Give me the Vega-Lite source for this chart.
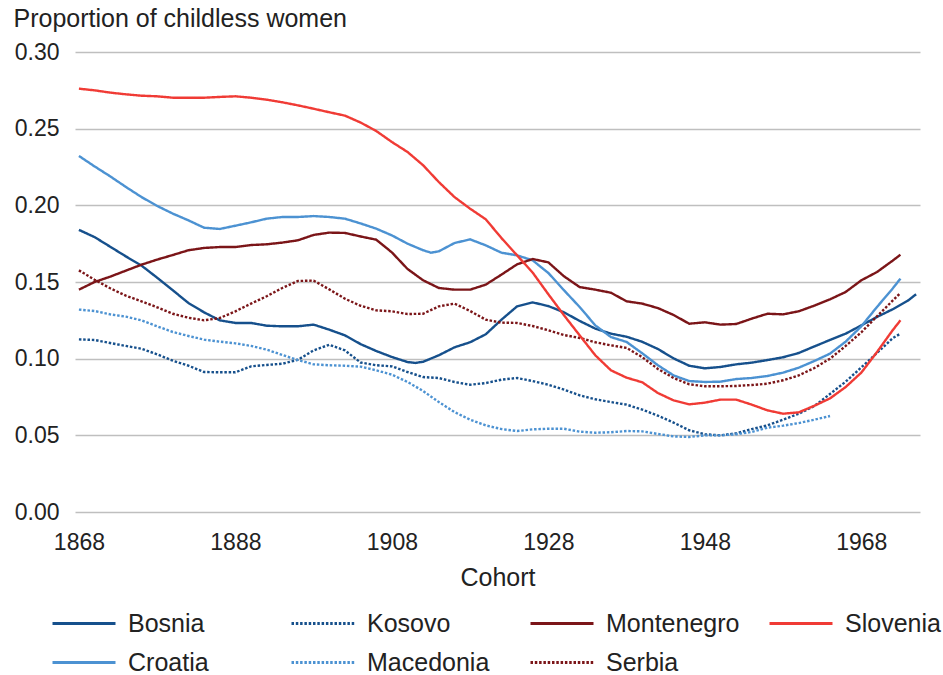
{
 "$schema": "https://vega.github.io/schema/vega-lite/v6.json",
 "width": 845,
 "height": 460,
 "autosize": {"type": "none"},
 "padding": {"left": 75, "top": 52, "right": 23, "bottom": 163},
 "background": "white",
 "config": {
  "view": {"stroke": null},
  "font": "Liberation Sans",
  "legend": {
   "orient": "none",
   "legendX": -24,
   "legendY": 559.5,
   "columns": 4,
   "symbolType": "stroke",
   "symbolSize": 3969,
   "symbolStrokeWidth": 3,
   "labelFontSize": 25,
   "labelColor": "#222222",
   "labelOffset": 11,
   "columnPadding": 28,
   "rowPadding": 14,
   "clipHeight": 24,
   "gridAlign": "all",
   "padding": 0
  }
 },
 "data": {"values": [
  {"country":"Bosnia","cohort":1868,"value":0.184},{"country":"Bosnia","cohort":1870,"value":0.1793},{"country":"Bosnia","cohort":1872,"value":0.173},{"country":"Bosnia","cohort":1874,"value":0.1667},{"country":"Bosnia","cohort":1876,"value":0.1607},{"country":"Bosnia","cohort":1878,"value":0.1528},{"country":"Bosnia","cohort":1880,"value":0.1446},{"country":"Bosnia","cohort":1882,"value":0.1363},{"country":"Bosnia","cohort":1884,"value":0.1302},{"country":"Bosnia","cohort":1886,"value":0.125},{"country":"Bosnia","cohort":1888,"value":0.1233},{"country":"Bosnia","cohort":1890,"value":0.1233},{"country":"Bosnia","cohort":1892,"value":0.1215},{"country":"Bosnia","cohort":1894,"value":0.1211},{"country":"Bosnia","cohort":1896,"value":0.1211},{"country":"Bosnia","cohort":1898,"value":0.1222},{"country":"Bosnia","cohort":1900,"value":0.1189},{"country":"Bosnia","cohort":1902,"value":0.1152},{"country":"Bosnia","cohort":1904,"value":0.1095},{"country":"Bosnia","cohort":1906,"value":0.105},{"country":"Bosnia","cohort":1908,"value":0.1011},{"country":"Bosnia","cohort":1910,"value":0.0978},{"country":"Bosnia","cohort":1911,"value":0.0972},{"country":"Bosnia","cohort":1912,"value":0.098},{"country":"Bosnia","cohort":1914,"value":0.1022},{"country":"Bosnia","cohort":1916,"value":0.1074},{"country":"Bosnia","cohort":1918,"value":0.1107},{"country":"Bosnia","cohort":1920,"value":0.1159},{"country":"Bosnia","cohort":1922,"value":0.1254},{"country":"Bosnia","cohort":1924,"value":0.1341},{"country":"Bosnia","cohort":1926,"value":0.1367},{"country":"Bosnia","cohort":1928,"value":0.1343},{"country":"Bosnia","cohort":1930,"value":0.1302},{"country":"Bosnia","cohort":1932,"value":0.1246},{"country":"Bosnia","cohort":1934,"value":0.1196},{"country":"Bosnia","cohort":1936,"value":0.1163},{"country":"Bosnia","cohort":1938,"value":0.1143},{"country":"Bosnia","cohort":1940,"value":0.111},{"country":"Bosnia","cohort":1942,"value":0.1063},{"country":"Bosnia","cohort":1944,"value":0.1002},{"country":"Bosnia","cohort":1946,"value":0.0954},{"country":"Bosnia","cohort":1948,"value":0.0937},{"country":"Bosnia","cohort":1950,"value":0.0946},{"country":"Bosnia","cohort":1952,"value":0.0963},{"country":"Bosnia","cohort":1954,"value":0.0974},{"country":"Bosnia","cohort":1956,"value":0.0991},{"country":"Bosnia","cohort":1958,"value":0.1009},{"country":"Bosnia","cohort":1960,"value":0.1037},{"country":"Bosnia","cohort":1962,"value":0.108},{"country":"Bosnia","cohort":1964,"value":0.1122},{"country":"Bosnia","cohort":1966,"value":0.1163},{"country":"Bosnia","cohort":1968,"value":0.1217},{"country":"Bosnia","cohort":1970,"value":0.1272},{"country":"Bosnia","cohort":1972,"value":0.1322},{"country":"Bosnia","cohort":1974,"value":0.138},{"country":"Bosnia","cohort":1975,"value":0.142},
  {"country":"Croatia","cohort":1868,"value":0.2322},{"country":"Croatia","cohort":1870,"value":0.2254},{"country":"Croatia","cohort":1872,"value":0.2189},{"country":"Croatia","cohort":1874,"value":0.212},{"country":"Croatia","cohort":1876,"value":0.2054},{"country":"Croatia","cohort":1878,"value":0.1996},{"country":"Croatia","cohort":1880,"value":0.1946},{"country":"Croatia","cohort":1882,"value":0.1902},{"country":"Croatia","cohort":1884,"value":0.1854},{"country":"Croatia","cohort":1886,"value":0.1846},{"country":"Croatia","cohort":1888,"value":0.1867},{"country":"Croatia","cohort":1890,"value":0.1889},{"country":"Croatia","cohort":1892,"value":0.1913},{"country":"Croatia","cohort":1894,"value":0.1924},{"country":"Croatia","cohort":1896,"value":0.1924},{"country":"Croatia","cohort":1898,"value":0.193},{"country":"Croatia","cohort":1900,"value":0.1924},{"country":"Croatia","cohort":1902,"value":0.1913},{"country":"Croatia","cohort":1904,"value":0.1882},{"country":"Croatia","cohort":1906,"value":0.1848},{"country":"Croatia","cohort":1908,"value":0.1804},{"country":"Croatia","cohort":1910,"value":0.175},{"country":"Croatia","cohort":1912,"value":0.1707},{"country":"Croatia","cohort":1913,"value":0.1691},{"country":"Croatia","cohort":1914,"value":0.17},{"country":"Croatia","cohort":1916,"value":0.1754},{"country":"Croatia","cohort":1918,"value":0.1778},{"country":"Croatia","cohort":1920,"value":0.1739},{"country":"Croatia","cohort":1922,"value":0.1691},{"country":"Croatia","cohort":1924,"value":0.1674},{"country":"Croatia","cohort":1926,"value":0.1641},{"country":"Croatia","cohort":1928,"value":0.1559},{"country":"Croatia","cohort":1930,"value":0.1446},{"country":"Croatia","cohort":1932,"value":0.1337},{"country":"Croatia","cohort":1934,"value":0.1217},{"country":"Croatia","cohort":1936,"value":0.1141},{"country":"Croatia","cohort":1938,"value":0.1109},{"country":"Croatia","cohort":1940,"value":0.1035},{"country":"Croatia","cohort":1942,"value":0.0957},{"country":"Croatia","cohort":1944,"value":0.0891},{"country":"Croatia","cohort":1946,"value":0.0854},{"country":"Croatia","cohort":1948,"value":0.0848},{"country":"Croatia","cohort":1950,"value":0.085},{"country":"Croatia","cohort":1952,"value":0.0867},{"country":"Croatia","cohort":1954,"value":0.0874},{"country":"Croatia","cohort":1956,"value":0.0887},{"country":"Croatia","cohort":1958,"value":0.0909},{"country":"Croatia","cohort":1960,"value":0.0941},{"country":"Croatia","cohort":1962,"value":0.0985},{"country":"Croatia","cohort":1964,"value":0.1033},{"country":"Croatia","cohort":1966,"value":0.1111},{"country":"Croatia","cohort":1968,"value":0.1211},{"country":"Croatia","cohort":1970,"value":0.1337},{"country":"Croatia","cohort":1972,"value":0.1457},{"country":"Croatia","cohort":1973,"value":0.1522},
  {"country":"Kosovo","cohort":1868,"value":0.1126},{"country":"Kosovo","cohort":1870,"value":0.1122},{"country":"Kosovo","cohort":1872,"value":0.1102},{"country":"Kosovo","cohort":1874,"value":0.1083},{"country":"Kosovo","cohort":1876,"value":0.1065},{"country":"Kosovo","cohort":1878,"value":0.1028},{"country":"Kosovo","cohort":1880,"value":0.0987},{"country":"Kosovo","cohort":1882,"value":0.0954},{"country":"Kosovo","cohort":1884,"value":0.0913},{"country":"Kosovo","cohort":1886,"value":0.0911},{"country":"Kosovo","cohort":1888,"value":0.0911},{"country":"Kosovo","cohort":1890,"value":0.095},{"country":"Kosovo","cohort":1892,"value":0.0959},{"country":"Kosovo","cohort":1894,"value":0.0967},{"country":"Kosovo","cohort":1896,"value":0.0993},{"country":"Kosovo","cohort":1898,"value":0.1054},{"country":"Kosovo","cohort":1900,"value":0.1091},{"country":"Kosovo","cohort":1902,"value":0.1054},{"country":"Kosovo","cohort":1904,"value":0.0975},{"country":"Kosovo","cohort":1906,"value":0.0957},{"country":"Kosovo","cohort":1908,"value":0.095},{"country":"Kosovo","cohort":1910,"value":0.0913},{"country":"Kosovo","cohort":1912,"value":0.088},{"country":"Kosovo","cohort":1914,"value":0.0874},{"country":"Kosovo","cohort":1916,"value":0.0848},{"country":"Kosovo","cohort":1918,"value":0.083},{"country":"Kosovo","cohort":1920,"value":0.0841},{"country":"Kosovo","cohort":1922,"value":0.0863},{"country":"Kosovo","cohort":1924,"value":0.0874},{"country":"Kosovo","cohort":1926,"value":0.0854},{"country":"Kosovo","cohort":1928,"value":0.083},{"country":"Kosovo","cohort":1930,"value":0.0798},{"country":"Kosovo","cohort":1932,"value":0.0761},{"country":"Kosovo","cohort":1934,"value":0.0735},{"country":"Kosovo","cohort":1936,"value":0.0717},{"country":"Kosovo","cohort":1938,"value":0.07},{"country":"Kosovo","cohort":1940,"value":0.0668},{"country":"Kosovo","cohort":1942,"value":0.0628},{"country":"Kosovo","cohort":1944,"value":0.0583},{"country":"Kosovo","cohort":1946,"value":0.0533},{"country":"Kosovo","cohort":1948,"value":0.0507},{"country":"Kosovo","cohort":1950,"value":0.05},{"country":"Kosovo","cohort":1952,"value":0.0513},{"country":"Kosovo","cohort":1954,"value":0.0541},{"country":"Kosovo","cohort":1956,"value":0.0565},{"country":"Kosovo","cohort":1958,"value":0.0602},{"country":"Kosovo","cohort":1960,"value":0.0641},{"country":"Kosovo","cohort":1962,"value":0.0691},{"country":"Kosovo","cohort":1964,"value":0.077},{"country":"Kosovo","cohort":1966,"value":0.085},{"country":"Kosovo","cohort":1968,"value":0.0943},{"country":"Kosovo","cohort":1970,"value":0.1037},{"country":"Kosovo","cohort":1972,"value":0.1133},{"country":"Kosovo","cohort":1973,"value":0.1163},
  {"country":"Macedonia","cohort":1868,"value":0.132},{"country":"Macedonia","cohort":1870,"value":0.1311},{"country":"Macedonia","cohort":1872,"value":0.1289},{"country":"Macedonia","cohort":1874,"value":0.1274},{"country":"Macedonia","cohort":1876,"value":0.125},{"country":"Macedonia","cohort":1878,"value":0.1211},{"country":"Macedonia","cohort":1880,"value":0.1174},{"country":"Macedonia","cohort":1882,"value":0.1148},{"country":"Macedonia","cohort":1884,"value":0.1124},{"country":"Macedonia","cohort":1886,"value":0.1111},{"country":"Macedonia","cohort":1888,"value":0.11},{"country":"Macedonia","cohort":1890,"value":0.1083},{"country":"Macedonia","cohort":1892,"value":0.1059},{"country":"Macedonia","cohort":1894,"value":0.1024},{"country":"Macedonia","cohort":1896,"value":0.0991},{"country":"Macedonia","cohort":1898,"value":0.0963},{"country":"Macedonia","cohort":1900,"value":0.0957},{"country":"Macedonia","cohort":1902,"value":0.0954},{"country":"Macedonia","cohort":1904,"value":0.0948},{"country":"Macedonia","cohort":1906,"value":0.0924},{"country":"Macedonia","cohort":1908,"value":0.0896},{"country":"Macedonia","cohort":1910,"value":0.0848},{"country":"Macedonia","cohort":1912,"value":0.0789},{"country":"Macedonia","cohort":1914,"value":0.0717},{"country":"Macedonia","cohort":1916,"value":0.0652},{"country":"Macedonia","cohort":1918,"value":0.0602},{"country":"Macedonia","cohort":1920,"value":0.0565},{"country":"Macedonia","cohort":1922,"value":0.0541},{"country":"Macedonia","cohort":1924,"value":0.0528},{"country":"Macedonia","cohort":1926,"value":0.0539},{"country":"Macedonia","cohort":1928,"value":0.0543},{"country":"Macedonia","cohort":1930,"value":0.0543},{"country":"Macedonia","cohort":1932,"value":0.0524},{"country":"Macedonia","cohort":1934,"value":0.0517},{"country":"Macedonia","cohort":1936,"value":0.052},{"country":"Macedonia","cohort":1938,"value":0.0528},{"country":"Macedonia","cohort":1940,"value":0.0526},{"country":"Macedonia","cohort":1942,"value":0.0509},{"country":"Macedonia","cohort":1944,"value":0.0493},{"country":"Macedonia","cohort":1946,"value":0.0489},{"country":"Macedonia","cohort":1948,"value":0.05},{"country":"Macedonia","cohort":1950,"value":0.05},{"country":"Macedonia","cohort":1952,"value":0.0507},{"country":"Macedonia","cohort":1954,"value":0.0522},{"country":"Macedonia","cohort":1956,"value":0.055},{"country":"Macedonia","cohort":1958,"value":0.0563},{"country":"Macedonia","cohort":1960,"value":0.058},{"country":"Macedonia","cohort":1962,"value":0.0602},{"country":"Macedonia","cohort":1964,"value":0.0626},
  {"country":"Montenegro","cohort":1868,"value":0.145},{"country":"Montenegro","cohort":1870,"value":0.15},{"country":"Montenegro","cohort":1872,"value":0.1535},{"country":"Montenegro","cohort":1874,"value":0.1574},{"country":"Montenegro","cohort":1876,"value":0.1613},{"country":"Montenegro","cohort":1878,"value":0.1646},{"country":"Montenegro","cohort":1880,"value":0.1676},{"country":"Montenegro","cohort":1882,"value":0.1707},{"country":"Montenegro","cohort":1884,"value":0.1722},{"country":"Montenegro","cohort":1886,"value":0.1728},{"country":"Montenegro","cohort":1888,"value":0.1728},{"country":"Montenegro","cohort":1890,"value":0.1741},{"country":"Montenegro","cohort":1892,"value":0.1746},{"country":"Montenegro","cohort":1894,"value":0.1757},{"country":"Montenegro","cohort":1896,"value":0.1772},{"country":"Montenegro","cohort":1898,"value":0.1807},{"country":"Montenegro","cohort":1900,"value":0.1822},{"country":"Montenegro","cohort":1902,"value":0.182},{"country":"Montenegro","cohort":1904,"value":0.1797},{"country":"Montenegro","cohort":1906,"value":0.1776},{"country":"Montenegro","cohort":1908,"value":0.1693},{"country":"Montenegro","cohort":1910,"value":0.1585},{"country":"Montenegro","cohort":1912,"value":0.1511},{"country":"Montenegro","cohort":1914,"value":0.1461},{"country":"Montenegro","cohort":1916,"value":0.145},{"country":"Montenegro","cohort":1918,"value":0.145},{"country":"Montenegro","cohort":1920,"value":0.1483},{"country":"Montenegro","cohort":1922,"value":0.1548},{"country":"Montenegro","cohort":1924,"value":0.1615},{"country":"Montenegro","cohort":1926,"value":0.165},{"country":"Montenegro","cohort":1928,"value":0.1628},{"country":"Montenegro","cohort":1930,"value":0.1537},{"country":"Montenegro","cohort":1932,"value":0.1467},{"country":"Montenegro","cohort":1934,"value":0.145},{"country":"Montenegro","cohort":1936,"value":0.143},{"country":"Montenegro","cohort":1938,"value":0.1374},{"country":"Montenegro","cohort":1940,"value":0.1359},{"country":"Montenegro","cohort":1942,"value":0.133},{"country":"Montenegro","cohort":1944,"value":0.1285},{"country":"Montenegro","cohort":1946,"value":0.1228},{"country":"Montenegro","cohort":1948,"value":0.1237},{"country":"Montenegro","cohort":1950,"value":0.1222},{"country":"Montenegro","cohort":1952,"value":0.1226},{"country":"Montenegro","cohort":1954,"value":0.1261},{"country":"Montenegro","cohort":1956,"value":0.1293},{"country":"Montenegro","cohort":1958,"value":0.1289},{"country":"Montenegro","cohort":1960,"value":0.1309},{"country":"Montenegro","cohort":1962,"value":0.1346},{"country":"Montenegro","cohort":1964,"value":0.1387},{"country":"Montenegro","cohort":1966,"value":0.1435},{"country":"Montenegro","cohort":1968,"value":0.1511},{"country":"Montenegro","cohort":1970,"value":0.1565},{"country":"Montenegro","cohort":1972,"value":0.1639},{"country":"Montenegro","cohort":1973,"value":0.1678},
  {"country":"Serbia","cohort":1868,"value":0.1576},{"country":"Serbia","cohort":1870,"value":0.1515},{"country":"Serbia","cohort":1872,"value":0.1459},{"country":"Serbia","cohort":1874,"value":0.1411},{"country":"Serbia","cohort":1876,"value":0.1374},{"country":"Serbia","cohort":1878,"value":0.1335},{"country":"Serbia","cohort":1880,"value":0.1293},{"country":"Serbia","cohort":1882,"value":0.1267},{"country":"Serbia","cohort":1884,"value":0.125},{"country":"Serbia","cohort":1886,"value":0.1265},{"country":"Serbia","cohort":1888,"value":0.1309},{"country":"Serbia","cohort":1890,"value":0.1359},{"country":"Serbia","cohort":1892,"value":0.1407},{"country":"Serbia","cohort":1894,"value":0.1461},{"country":"Serbia","cohort":1896,"value":0.1507},{"country":"Serbia","cohort":1898,"value":0.1509},{"country":"Serbia","cohort":1900,"value":0.1452},{"country":"Serbia","cohort":1902,"value":0.1391},{"country":"Serbia","cohort":1904,"value":0.1345},{"country":"Serbia","cohort":1906,"value":0.1315},{"country":"Serbia","cohort":1908,"value":0.1309},{"country":"Serbia","cohort":1910,"value":0.1291},{"country":"Serbia","cohort":1912,"value":0.1293},{"country":"Serbia","cohort":1914,"value":0.1341},{"country":"Serbia","cohort":1916,"value":0.1359},{"country":"Serbia","cohort":1918,"value":0.1311},{"country":"Serbia","cohort":1920,"value":0.1254},{"country":"Serbia","cohort":1922,"value":0.1235},{"country":"Serbia","cohort":1924,"value":0.1233},{"country":"Serbia","cohort":1926,"value":0.1213},{"country":"Serbia","cohort":1928,"value":0.1185},{"country":"Serbia","cohort":1930,"value":0.1154},{"country":"Serbia","cohort":1932,"value":0.1135},{"country":"Serbia","cohort":1934,"value":0.1107},{"country":"Serbia","cohort":1936,"value":0.1087},{"country":"Serbia","cohort":1938,"value":0.107},{"country":"Serbia","cohort":1940,"value":0.101},{"country":"Serbia","cohort":1942,"value":0.0933},{"country":"Serbia","cohort":1944,"value":0.0874},{"country":"Serbia","cohort":1946,"value":0.0833},{"country":"Serbia","cohort":1948,"value":0.082},{"country":"Serbia","cohort":1950,"value":0.082},{"country":"Serbia","cohort":1952,"value":0.0822},{"country":"Serbia","cohort":1954,"value":0.0828},{"country":"Serbia","cohort":1956,"value":0.0837},{"country":"Serbia","cohort":1958,"value":0.0859},{"country":"Serbia","cohort":1960,"value":0.0891},{"country":"Serbia","cohort":1962,"value":0.0939},{"country":"Serbia","cohort":1964,"value":0.1},{"country":"Serbia","cohort":1966,"value":0.1083},{"country":"Serbia","cohort":1968,"value":0.1172},{"country":"Serbia","cohort":1970,"value":0.1276},{"country":"Serbia","cohort":1972,"value":0.1378},{"country":"Serbia","cohort":1973,"value":0.1428},
  {"country":"Slovenia","cohort":1868,"value":0.2761},{"country":"Slovenia","cohort":1870,"value":0.275},{"country":"Slovenia","cohort":1872,"value":0.2735},{"country":"Slovenia","cohort":1874,"value":0.2724},{"country":"Slovenia","cohort":1876,"value":0.2715},{"country":"Slovenia","cohort":1878,"value":0.2711},{"country":"Slovenia","cohort":1880,"value":0.2702},{"country":"Slovenia","cohort":1882,"value":0.2702},{"country":"Slovenia","cohort":1884,"value":0.2702},{"country":"Slovenia","cohort":1886,"value":0.2707},{"country":"Slovenia","cohort":1888,"value":0.2711},{"country":"Slovenia","cohort":1890,"value":0.2702},{"country":"Slovenia","cohort":1892,"value":0.2689},{"country":"Slovenia","cohort":1894,"value":0.2672},{"country":"Slovenia","cohort":1896,"value":0.2652},{"country":"Slovenia","cohort":1898,"value":0.263},{"country":"Slovenia","cohort":1900,"value":0.2607},{"country":"Slovenia","cohort":1902,"value":0.2585},{"country":"Slovenia","cohort":1904,"value":0.254},{"country":"Slovenia","cohort":1906,"value":0.2485},{"country":"Slovenia","cohort":1908,"value":0.2413},{"country":"Slovenia","cohort":1910,"value":0.2348},{"country":"Slovenia","cohort":1912,"value":0.2261},{"country":"Slovenia","cohort":1914,"value":0.2152},{"country":"Slovenia","cohort":1916,"value":0.2054},{"country":"Slovenia","cohort":1918,"value":0.1978},{"country":"Slovenia","cohort":1920,"value":0.1909},{"country":"Slovenia","cohort":1922,"value":0.1787},{"country":"Slovenia","cohort":1924,"value":0.1674},{"country":"Slovenia","cohort":1926,"value":0.1561},{"country":"Slovenia","cohort":1928,"value":0.142},{"country":"Slovenia","cohort":1930,"value":0.1283},{"country":"Slovenia","cohort":1932,"value":0.1152},{"country":"Slovenia","cohort":1934,"value":0.1022},{"country":"Slovenia","cohort":1936,"value":0.0924},{"country":"Slovenia","cohort":1938,"value":0.0876},{"country":"Slovenia","cohort":1940,"value":0.0846},{"country":"Slovenia","cohort":1942,"value":0.0776},{"country":"Slovenia","cohort":1944,"value":0.0728},{"country":"Slovenia","cohort":1946,"value":0.0702},{"country":"Slovenia","cohort":1948,"value":0.0713},{"country":"Slovenia","cohort":1950,"value":0.0733},{"country":"Slovenia","cohort":1952,"value":0.0733},{"country":"Slovenia","cohort":1954,"value":0.07},{"country":"Slovenia","cohort":1956,"value":0.0663},{"country":"Slovenia","cohort":1958,"value":0.0641},{"country":"Slovenia","cohort":1960,"value":0.065},{"country":"Slovenia","cohort":1962,"value":0.0693},{"country":"Slovenia","cohort":1964,"value":0.0741},{"country":"Slovenia","cohort":1966,"value":0.0815},{"country":"Slovenia","cohort":1968,"value":0.0909},{"country":"Slovenia","cohort":1970,"value":0.1043},{"country":"Slovenia","cohort":1972,"value":0.1185},{"country":"Slovenia","cohort":1973,"value":0.125}
 ]},
 "mark": {"type": "line", "strokeWidth": 2.4, "strokeCap": "butt"},
 "encoding": {
  "x": {
   "field": "cohort", "type": "quantitative",
   "scale": {"domain": [1867.5, 1975.5], "nice": false, "zero": false},
   "axis": {
    "values": [1868, 1888, 1908, 1928, 1948, 1968], "format": "d",
    "labelFontSize": 23, "labelColor": "#222222", "labelPadding": 19,
    "ticks": false, "domain": false, "grid": false,
    "title": "Cohort", "titleFontSize": 25, "titleFontWeight": "normal", "titleColor": "#222222",
    "titleY": 73, "titleBaseline": "alphabetic"
   }
  },
  "y": {
   "field": "value", "type": "quantitative",
   "scale": {"domain": [0, 0.3], "nice": false},
   "axis": {
    "values": [0, 0.05, 0.1, 0.15, 0.2, 0.25, 0.3], "format": ".2f",
    "labelFontSize": 23, "labelColor": "#222222", "labelPadding": 16,
    "ticks": false, "domain": false, "grid": true, "gridColor": "#bfbfbf", "gridWidth": 1.5,
    "title": "Proportion of childless women", "titleAngle": 0, "titleAlign": "left",
    "titleX": -62, "titleY": -26, "titleBaseline": "alphabetic",
    "titleFontSize": 25, "titleFontWeight": "normal", "titleColor": "#222222"
   }
  },
  "color": {
   "field": "country", "type": "nominal",
   "scale": {
    "domain": ["Bosnia", "Croatia", "Kosovo", "Macedonia", "Montenegro", "Serbia", "Slovenia"],
    "range": ["#16508c", "#4c92d2", "#16508c", "#4c92d2", "#7b1518", "#7b1518", "#f03b35"]
   },
   "legend": {"title": null}
  },
  "strokeDash": {
   "field": "country", "type": "nominal",
   "scale": {
    "domain": ["Bosnia", "Croatia", "Kosovo", "Macedonia", "Montenegro", "Serbia", "Slovenia"],
    "range": [[1, 0], [1, 0], [2.5, 1.8], [2.5, 1.8], [1, 0], [2.5, 1.8], [1, 0]]
   },
   "legend": {"title": null}
  }
 }
}
